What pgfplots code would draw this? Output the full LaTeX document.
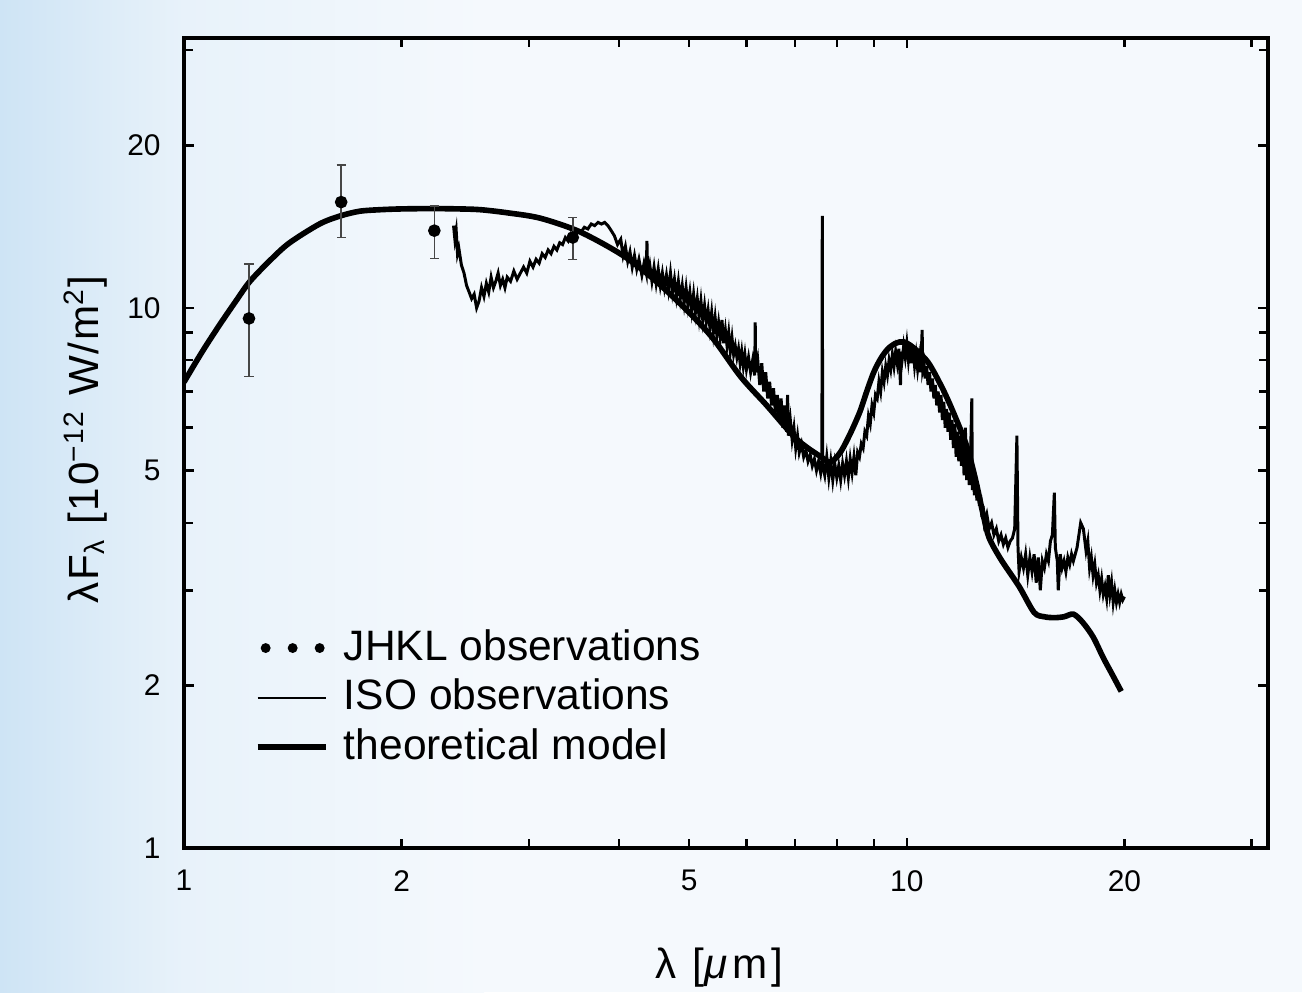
\documentclass[border=0pt]{standalone}
\usepackage{pgfplots}
\pgfplotsset{compat=1.18}
\usepackage{fontspec}
\setmainfont{Liberation Sans}
\definecolor{errgray}{RGB}{70,70,70}
\definecolor{bgblue}{RGB}{206,228,245}
\definecolor{bgmid}{RGB}{232,242,250}
\definecolor{bgwhite}{RGB}{245,249,253}

\pgfplotstableread{
x     y     ep    em
1.23  9.56  2.51  2.09
1.65  15.7  2.7   2.2
2.22  13.9  1.53  1.55
3.45  13.5  1.2   1.2
}\jhkl

\begin{document}
\begin{tikzpicture}
\fill[bgwhite] (-1.84cm,-1.44cm) rectangle (11.18cm,8.48cm);
\shade[left color=bgblue, right color=bgmid] (-1.84cm,-1.44cm) rectangle (0cm,8.48cm);
\shade[left color=bgmid, right color=bgwhite] (0cm,-1.44cm) rectangle (3cm,8.48cm);
\useasboundingbox (-1.84cm,-1.44cm) rectangle (11.18cm,8.48cm);
\begin{axis}[
    scale only axis,
    width=10.84cm, height=8.10cm,
    xmode=log, ymode=log,
    xmin=1, xmax=31.6, ymin=1, ymax=31.6,
    axis line style={line width=0.9pt},
    tick align=inside,
    tick style={black, line width=0.7pt},
    major tick length=0.18cm, minor tick length=0.09cm,
    xtick={1,10}, xticklabels={1,10},
    extra x ticks={2,5,20}, extra x tick labels={2,5,20},
    extra x tick style={major tick length=0.09cm},
    minor xtick={3,4,6,7,8,9,30},
    ytick={1,2,5,10,20}, yticklabels={1,2,5,10,20},
    minor ytick={3,4,6,7,8,9,30},
    major tick length=0.1cm,
    /pgf/number format/assume math mode=true,
    ticklabel style={font=\fontsize{8.5}{10}\selectfont},
    xticklabel style={yshift=-0.1cm},
    yticklabel style={xshift=-0.11cm},
    xlabel={λ [\textit{μ}m]},
    ylabel={λF\textsubscript{λ} [10\textsuperscript{−12} W/m\textsuperscript{2}]},
    xlabel style={at={(axis description cs:0.494,-0.148)}, anchor=center,
        font=\fontsize{12}{14}\selectfont\addfontfeatures{LetterSpace=10}},
    ylabel style={at={(axis description cs:-0.091,0.504)}, anchor=center,
        font=\fontsize{12}{14}\selectfont\addfontfeatures{LetterSpace=5}},
    legend style={at={(rel axis cs:0.055,0.287)}, anchor=north west, draw=none, fill=none,
        font=\fontsize{12.1}{14}\selectfont,
        nodes={text height=9.5pt, text depth=2.6pt, inner sep=1pt},
        column sep=0.12cm},
    legend cell align=left,
    legend image code/.code={\draw[#1] (0cm,0cm) -- (0.68cm,0cm);},
]
\addlegendimage{legend image code/.code={
    \fill (0.08cm,0cm) circle (0.042cm);
    \fill (0.35cm,0cm) circle (0.042cm);
    \fill (0.62cm,0cm) circle (0.042cm);}}
\addlegendentry{JHKL observations}
\addlegendimage{black, line width=0.6pt}
\addlegendentry{ISO observations}
\addlegendimage{black, line width=1.6pt}
\addlegendentry{theoretical model}

% ISO spectrum
\addplot[black, line width=0.85pt, forget plot] coordinates {
(2.36,14.2)(2.37,13.4)(2.38,13.9)(2.39,12.6)(2.40,12.9)(2.42,12.0)(2.44,11.6)(2.46,11.0)(2.48,10.7)(2.50,10.4)
(2.52,10.6)(2.54,10.0)(2.56,10.3)(2.58,10.9)(2.60,10.5)(2.62,11.1)(2.64,10.7)(2.66,11.4)(2.68,10.9)(2.70,11.2)
(2.72,11.6)(2.74,11.0)(2.76,11.3)(2.78,10.9)(2.80,11.4)(2.83,11.2)(2.86,11.7)(2.89,11.3)(2.92,11.6)(2.95,11.9)
(2.98,11.6)(3.01,12.2)(3.04,11.9)(3.07,12.3)(3.10,12.1)(3.13,12.6)(3.16,12.4)(3.19,12.8)(3.22,12.6)(3.25,13.0)
(3.28,12.8)(3.31,13.2)(3.34,13.1)(3.37,13.5)(3.40,13.3)(3.43,13.7)(3.46,13.5)(3.50,13.9)(3.54,13.8)(3.58,14.1)
(3.62,14.0)(3.66,14.3)(3.70,14.2)(3.74,14.4)(3.78,14.3)(3.82,14.4)(3.86,14.2)(3.90,13.9)(3.94,13.6)(3.98,13.1)
(4.02,13.4)(4.05,12.5)(4.08,13.0)(4.11,12.2)(4.14,12.7)(4.17,11.9)(4.20,12.5)(4.23,11.8)(4.26,12.3)(4.30,11.5)
(4.33,12.1)(4.36,11.6)(4.37,13.3)(4.38,11.4)(4.41,12.0)(4.44,11.2)(4.47,11.9)(4.50,11.1)(4.53,11.8)(4.56,11.0)
(4.59,11.6)(4.62,10.9)(4.65,11.5)(4.68,10.8)(4.71,11.6)(4.74,10.7)(4.77,11.3)(4.80,10.5)(4.83,11.2)(4.86,10.4)
(4.89,11.0)(4.92,10.2)(4.95,10.9)(4.98,10.1)(5.01,10.7)(5.04,9.9)(5.07,10.6)(5.10,9.8)(5.13,10.4)(5.16,9.6)
(5.19,10.3)(5.22,9.5)(5.25,10.1)(5.28,9.4)(5.31,9.9)(5.34,9.2)(5.37,9.8)(5.40,9.0)(5.43,9.6)(5.46,8.9)
(5.49,9.4)(5.52,8.8)(5.55,9.5)(5.58,8.6)(5.61,9.1)(5.64,8.5)(5.67,9.0)(5.70,8.3)(5.73,8.8)(5.76,8.2)
(5.79,8.5)(5.82,8.1)(5.85,8.4)(5.88,7.9)(5.91,8.3)(5.94,7.8)(5.97,8.2)(6.00,7.7)(6.04,8.1)(6.08,7.6)
(6.12,8.0)(6.16,7.5)(6.17,9.4)(6.18,7.6)(6.22,8.0)(6.26,7.2)(6.30,7.9)(6.34,7.0)(6.38,7.6)(6.42,6.8)
(6.46,7.3)(6.50,6.6)(6.54,7.1)(6.58,6.4)(6.62,6.9)(6.66,6.2)(6.70,6.8)(6.74,6.0)(6.78,6.6)(6.82,5.9)
(6.84,6.9)(6.86,5.8)(6.90,6.2)(6.94,5.7)(6.98,6.0)(7.02,5.5)(7.06,5.8)(7.10,5.4)(7.15,5.6)(7.20,5.3)
(7.25,5.45)(7.30,5.2)(7.35,5.35)(7.40,5.1)(7.45,5.25)(7.50,5.0)(7.55,5.2)(7.60,4.95)(7.63,5.15)(7.64,14.8)
(7.65,5.1)(7.70,4.9)(7.75,5.3)(7.80,4.85)(7.85,5.2)(7.90,4.8)(7.95,5.15)(8.00,4.85)(8.05,5.1)(8.10,4.8)
(8.15,5.15)(8.20,4.9)(8.25,5.2)(8.30,4.85)(8.35,5.25)(8.40,4.95)(8.45,5.3)(8.50,4.9)(8.55,5.4)(8.60,5.3)
(8.65,5.6)(8.70,5.5)(8.75,5.9)(8.80,5.8)(8.85,6.3)(8.90,6.1)(8.95,6.6)(9.00,6.4)(9.05,6.9)(9.10,6.8)
(9.15,7.3)(9.20,7.0)(9.25,7.6)(9.30,7.3)(9.35,7.8)(9.40,7.5)(9.45,8.0)(9.50,7.7)(9.55,8.2)(9.60,7.8)
(9.65,8.3)(9.70,7.9)(9.75,8.4)(9.80,7.2)(9.82,8.3)(9.85,8.0)(9.90,8.5)(9.95,8.1)(10.00,8.6)(10.05,8.0)
(10.10,8.5)(10.15,7.9)(10.20,8.4)(10.25,7.8)(10.30,8.2)(10.35,7.7)(10.40,8.1)(10.45,7.6)(10.50,9.1)(10.52,7.7)
(10.56,7.9)(10.60,7.4)(10.65,7.8)(10.70,7.2)(10.75,7.6)(10.80,7.0)(10.85,7.4)(10.90,6.8)(10.95,7.2)(11.00,6.6)
(11.05,7.0)(11.10,6.4)(11.15,6.9)(11.20,6.2)(11.25,6.7)(11.30,6.0)(11.35,6.5)(11.40,5.9)(11.45,6.4)(11.50,5.7)
(11.55,6.2)(11.60,5.5)(11.65,6.1)(11.70,5.3)(11.75,5.9)(11.80,5.2)(11.85,5.8)(11.90,5.1)(11.95,5.7)(12.00,4.9)
(12.05,6.0)(12.10,4.8)(12.15,5.5)(12.20,4.7)(12.25,5.3)(12.30,6.8)(12.32,4.6)(12.36,5.1)(12.40,4.5)(12.45,4.9)
(12.50,4.4)(12.55,4.7)(12.60,4.3)(12.65,4.5)(12.70,4.1)(12.75,4.3)(12.80,4.0)(12.90,4.15)(13.00,3.9)(13.10,4.0)
(13.20,3.8)(13.30,3.9)(13.40,3.7)(13.50,3.8)(13.60,3.65)(13.70,3.75)(13.80,3.6)(13.90,3.7)(14.00,3.75)(14.10,3.9)
(14.20,5.8)(14.25,3.6)(14.30,3.25)(14.40,3.45)(14.50,3.3)(14.60,3.5)(14.70,3.2)(14.80,3.45)(14.90,3.25)(15.00,3.5)
(15.10,3.1)(15.20,3.45)(15.30,3.0)(15.40,3.4)(15.50,3.3)(15.60,3.5)(15.70,3.4)(15.80,3.7)(15.90,3.8)(16.00,4.55)
(16.05,3.6)(16.15,3.4)(16.20,3.0)(16.30,3.5)(16.40,3.3)(16.50,3.4)(16.60,3.25)(16.70,3.45)(16.80,3.35)(16.90,3.5)
(17.00,3.4)(17.20,3.6)(17.40,4.0)(17.55,3.9)(17.70,3.55)(17.80,3.7)(17.90,3.3)(18.00,3.45)(18.10,3.2)(18.20,3.35)
(18.30,3.1)(18.40,3.2)(18.50,3.0)(18.60,3.15)(18.70,2.95)(18.80,3.05)(18.90,2.9)(19.00,3.2)(19.10,2.95)(19.20,3.1)
(19.30,2.85)(19.40,3.0)(19.50,2.85)(19.60,2.95)(19.70,2.85)(19.80,2.95)(19.90,2.88)(20.00,2.92)
};

% theoretical model
\addplot[black, line width=1.6pt, smooth, tension=0.5, forget plot] coordinates {
(1.0,7.29)(1.06,8.3)(1.12,9.3)(1.18,10.3)(1.234,11.2)(1.32,12.3)(1.40,13.2)(1.54,14.3)(1.645,14.8)(1.75,15.1)
(1.87,15.2)(2.0,15.25)(2.2,15.27)(2.4,15.25)(2.57,15.2)(2.8,15.0)(3.11,14.66)(3.53,13.83)(4.05,12.5)
(4.5,11.2)(5.0,9.8)(5.4,8.76)(5.89,7.46)(6.4,6.6)(6.97,5.79)(7.3,5.5)(7.61,5.30)(7.84,5.18)(8.09,5.40)
(8.35,5.85)(8.61,6.42)(8.8,7.0)(9.0,7.6)(9.2,8.05)(9.41,8.39)(9.65,8.6)(9.9,8.65)(10.2,8.45)(10.7,7.93)
(11.2,7.1)(11.6,6.4)(12.1,5.55)(12.45,4.8)(12.77,4.11)(13.0,3.75)(13.5,3.42)(14.3,3.05)(15.0,2.73)
(15.5,2.68)(16.0,2.67)(16.5,2.68)(17.0,2.71)(17.5,2.62)(18.1,2.46)(18.7,2.25)(19.3,2.08)(19.8,1.95)
};

% JHKL photometry
\addplot[only marks, mark=*, mark size=1.6pt, black, forget plot,
    error bars/.cd, y dir=both, y explicit,
    error bar style={errgray, line width=0.45pt},
    error mark options={rotate=90, mark size=1.3pt, errgray, line width=0.45pt}]
    table[x=x, y=y, y error plus=ep, y error minus=em] {\jhkl};
\end{axis}
\end{tikzpicture}
\end{document}
